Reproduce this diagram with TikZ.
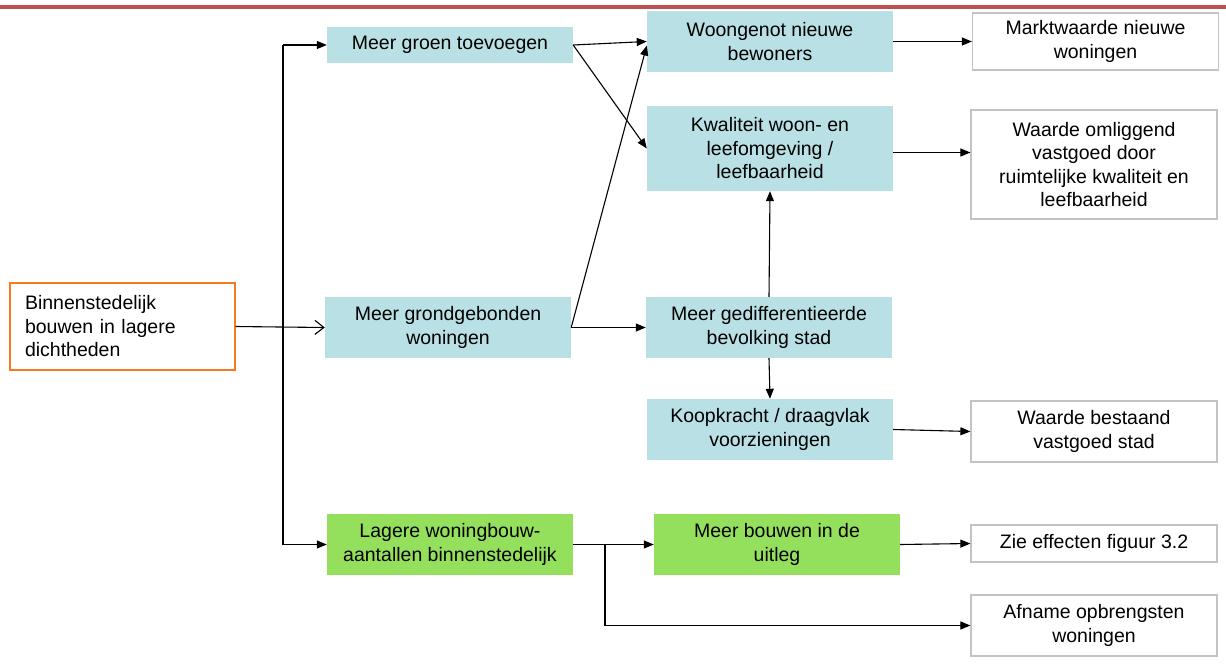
\documentclass[tikz,border=0pt]{standalone}
\usepackage{tikz}
\usetikzlibrary{arrows.meta, positioning, calc}
\usepackage{xcolor}
\usepackage{fontspec}
\setmainfont{Liberation Sans}

\definecolor{effectblue}{RGB}{185,224,228}
\definecolor{effectgreen}{RGB}{148,224,92}
\definecolor{startorange}{RGB}{250,120,30}
\definecolor{resultgray}{RGB}{195,195,195}
\definecolor{rulered}{RGB}{192,80,77}

\begin{document}
\begin{tikzpicture}[
  x=1pt, y=-1pt,
    box/.style={
        align=center,
        inner sep=0pt,
        minimum width=246pt,
        font=\fontsize{19.5}{23.5}\selectfont
    },
    bluebox/.style={box, fill=effectblue},
    greenbox/.style={box, fill=effectgreen},
    resultbox/.style={box, draw=resultgray, line width=1.2pt},
    startbox/.style={
        draw=startorange,
        line width=1.2pt,
        align=left,
        text width=195pt,
        inner xsep=15pt,
        minimum height=87pt,
        font=\fontsize{19.5}{23.5}\selectfont
    },
    arrow/.style={
        -{Triangle[length=10pt,width=8pt]},
        line width=1.1pt
    },
    openarrow/.style={
        -{Straight Barb[length=9pt,width=14pt]},
        line width=1.1pt
    }
]
\useasboundingbox (0,0) rectangle (1226,664);

\draw[rulered, line width=3.5pt] (0,7) -- (1226,7);

\node[startbox] (start) at (122.5,326.5)
{Binnenstedelijk\\
bouwen in lagere\\
dichtheden};

\node[bluebox, minimum height=36pt] (groen) at (450,45)
{Meer groen toevoegen};

\node[bluebox, minimum height=61pt] (grond) at (448,327.5)
{Meer grondgebonden\\ woningen};

\node[greenbox, minimum height=61pt] (lagere) at (450,544.5)
{Lagere woningbouw-\\ aantallen binnenstedelijk};

\node[bluebox, minimum height=61pt] (woongenot) at (770,41.5)
{Woongenot nieuwe\\ bewoners};

\node[bluebox, minimum height=85pt] (kwaliteit) at (770,148.5)
{Kwaliteit woon- en\\ leefomgeving /\\ leefbaarheid};

\node[bluebox, minimum height=61pt] (gediff) at (769,327.5)
{Meer gedifferentieerde\\ bevolking stad};

\node[bluebox, minimum height=61pt] (koop) at (770,429.5)
{Koopkracht / draagvlak\\ voorzieningen};

\node[greenbox, minimum height=61pt] (uitleg) at (777,544.5)
{Meer bouwen in de\\ uitleg};

\node[resultbox, minimum height=57pt] (markt) at (1095.5,41.5)
{Marktwaarde nieuwe\\ woningen};

\node[resultbox, minimum height=109pt] (omliggend) at (1094,164.5)
{Waarde omliggend\\ vastgoed door\\ ruimtelijke kwaliteit en\\ leefbaarheid};

\node[resultbox, minimum height=61pt] (bestaand) at (1094,431.5)
{Waarde bestaand\\ vastgoed stad};

\node[resultbox, minimum height=37pt] (zie) at (1094,543.5)
{Zie effecten figuur 3.2};

\node[resultbox, minimum height=61pt] (afname) at (1094,625.5)
{Afname opbrengsten\\ woningen};

% splitsing vanuit startvak
\coordinate (trunk) at (283,326.5);
\coordinate (split) at (605,544.5);

\draw[openarrow] (start.east) -- (grond.west);
\draw[line width=1.1pt] (trunk |- groen.west) -- (trunk |- lagere.west);
\draw[arrow] (trunk |- groen.west) -- (groen.west);
\draw[arrow] (trunk |- lagere.west) -- (lagere.west);

\draw[arrow] (groen.east) -- (woongenot.west);
\draw[arrow] (groen.east) -- (kwaliteit.west);
\draw[arrow] (grond.east) -- ([yshift=-4pt]woongenot.west);
\draw[arrow] (grond.east) -- (gediff.west);
\draw[arrow] (gediff.north) -- (kwaliteit.south);
\draw[arrow] (gediff.south) -- (koop.north);

\draw[arrow] (woongenot.east) -- (markt.west);
\draw[arrow] ([yshift=-4pt]kwaliteit.east) -- ([yshift=-4pt]kwaliteit.east -| omliggend.west);
\draw[arrow] (koop.east) -- (bestaand.west);

\draw[arrow] (lagere.east) -- (uitleg.west);
\draw[arrow] (uitleg.east) -- (zie.west);
\draw[arrow] (split) |- (afname.west);

\end{tikzpicture}
\end{document}
